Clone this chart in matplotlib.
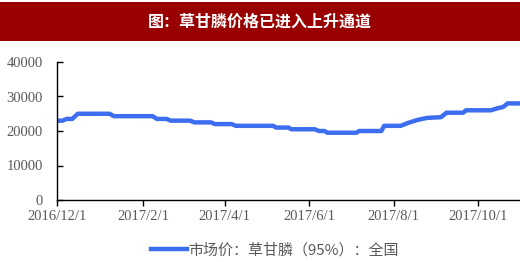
import matplotlib
matplotlib.use("Agg")
import matplotlib.pyplot as plt
import pandas as pd
from matplotlib.patches import Rectangle
from matplotlib.lines import Line2D

title = "图：草甘膦价格已进入上升通道"
series_name = "市场价：草甘膦（95%）：全国"

dates = ["2016-12-01", "2016-12-05", "2016-12-08", "2016-12-12", "2016-12-16",
         "2017-01-08", "2017-01-11", "2017-02-08", "2017-02-11", "2017-02-18",
         "2017-02-21", "2017-03-07", "2017-03-10", "2017-03-22", "2017-03-25",
         "2017-04-06", "2017-04-09", "2017-05-06", "2017-05-08", "2017-05-17",
         "2017-05-19", "2017-06-05", "2017-06-08", "2017-06-12", "2017-06-14",
         "2017-07-05", "2017-07-07", "2017-07-23", "2017-07-25", "2017-08-06",
         "2017-08-11", "2017-08-18", "2017-08-25", "2017-09-04", "2017-09-08",
         "2017-09-20", "2017-09-22", "2017-10-10", "2017-10-14", "2017-10-19",
         "2017-10-22", "2017-10-31"]
prices = [23000, 23000, 23500, 23500, 25000,
          25000, 24300, 24300, 23500, 23500,
          23000, 23000, 22500, 22500, 22000,
          22000, 21500, 21500, 21000, 21000,
          20500, 20500, 20000, 20000, 19500,
          19500, 20000, 20000, 21500, 21500,
          22300, 23200, 23800, 24000, 25300,
          25300, 26000, 26000, 26500, 27000,
          28000, 28000]

xtick_dates = ["2016-12-01", "2017-02-01", "2017-04-01", "2017-06-01", "2017-08-01", "2017-10-01"]
xtick_labels = ["2016/12/1", "2017/2/1", "2017/4/1", "2017/6/1", "2017/8/1", "2017/10/1"]
yticks = [0, 10000, 20000, 30000, 40000]

W, H = 520, 262
fig = plt.figure(figsize=(W / 100, H / 100), dpi=100)
fig.patch.set_facecolor("white")

# header band
fig.patches.append(Rectangle((0, 1 - 41 / H), 1, 39 / H, transform=fig.transFigure,
                             facecolor="#990000", edgecolor="none"))
fig.text(0.5, 1 - 21.5 / H, title, color="white", fontsize=11.5, fontweight="bold",
         ha="center", va="center", family=["Noto Sans CJK SC", "DejaVu Sans"])

ax = fig.add_axes([57 / W, 1 - 200 / H, 1 - 57 / W, 138 / H])
x = pd.to_datetime(dates)
ax.plot(x, prices, color="#3D6EF0", lw=3.2, solid_capstyle="butt")

ax.set_xlim(pd.Timestamp("2016-12-01"), pd.Timestamp("2017-10-31"))
ax.set_ylim(0, 40000)
ax.set_yticks(yticks)
ax.set_yticklabels([str(v) for v in yticks])
ax.set_xticks(pd.to_datetime(xtick_dates))
ax.set_xticklabels(xtick_labels)

for s in ["top", "right"]:
    ax.spines[s].set_visible(False)
for s in ["left", "bottom"]:
    ax.spines[s].set_color("black")
    ax.spines[s].set_linewidth(1.0)

ax.tick_params(axis="y", direction="in", length=4, width=1, colors="black",
               labelcolor="#595959", labelsize=10.5, pad=10)
ax.tick_params(axis="x", direction="out", length=4, width=1, colors="black",
               labelcolor="#595959", labelsize=10.5, pad=3)
for lab in ax.get_xticklabels() + ax.get_yticklabels():
    lab.set_family("Liberation Serif")

# legend
handle = Line2D([], [], color="#3D6EF0", lw=3.2)
leg = fig.legend([handle], [series_name], loc="center", bbox_to_anchor=(275 / W, 1 - 250 / H),
                 frameon=False, handlelength=2.4, handletextpad=0.1,
                 prop={"family": ["Noto Sans CJK SC", "DejaVu Sans"], "size": 10.8})
for t in leg.get_texts():
    t.set_color("#595959")

fig.savefig("out.png", dpi=100, facecolor="white")
